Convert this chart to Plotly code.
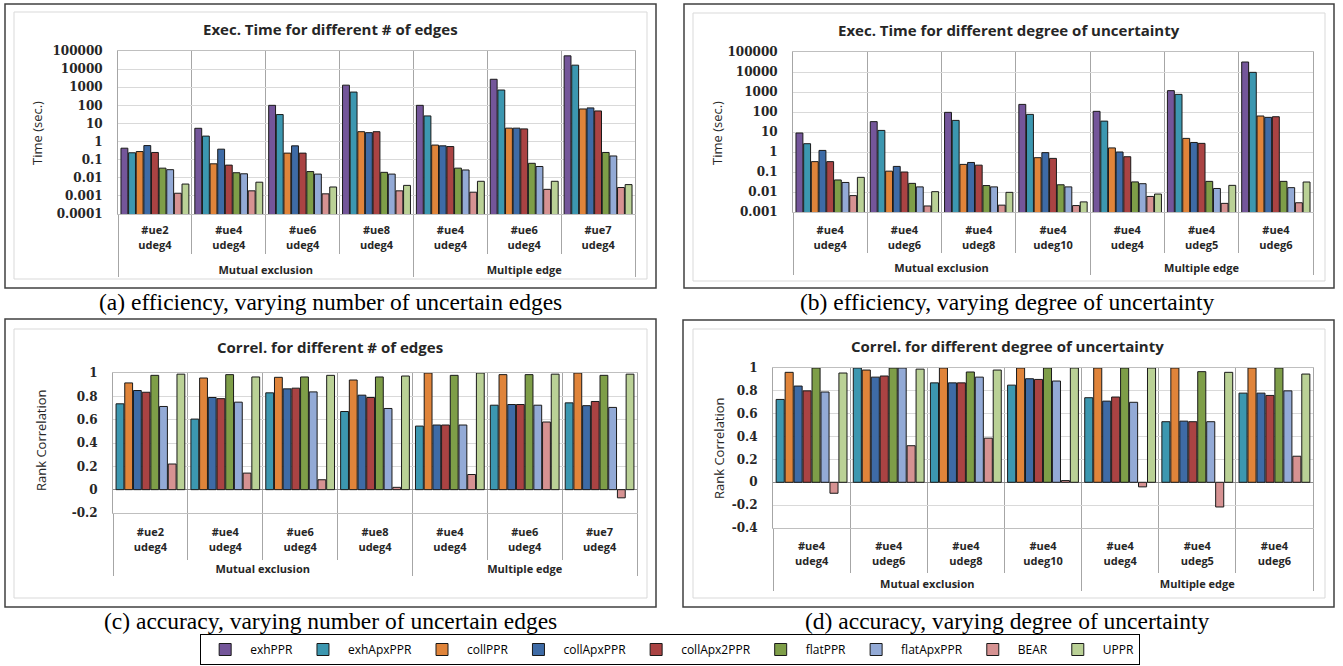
import plotly.graph_objects as go

# ---------------- data ----------------
methods = ["exhPPR", "exhApxPPR", "collPPR", "collApxPPR", "collApx2PPR",
           "flatPPR", "flatApxPPR", "BEAR", "UPPR"]
colors = ["#74569A", "#3C97B0", "#E0843A", "#3E6BA6", "#AA4343",
          "#7E9E48", "#93AAD6", "#D69292", "#BAD196"]

groups = ["Mutual exclusion"] * 4 + ["Multiple edge"] * 3
cats_edges = ["#ue2<br>udeg4", "#ue4<br>udeg4", "#ue6<br>udeg4", "#ue8<br>udeg4",
              "#ue4<br>udeg4", "#ue6<br>udeg4", "#ue7<br>udeg4"]
cats_degree = ["#ue4<br>udeg4", "#ue4<br>udeg6", "#ue4<br>udeg8", "#ue4<br>udeg10",
               "#ue4<br>udeg4", "#ue4<br>udeg5", "#ue4<br>udeg6"]

# (a) execution time, varying number of uncertain edges
a_exhPPR = [0.43, 5.4, 100, 1300, 100, 2750, 54000]
a_exhApxPPR = [0.24, 2.0, 31, 540, 26, 700, 16500]
a_collPPR = [0.28, 0.059, 0.23, 3.5, 0.64, 5.5, 63]
a_collApxPPR = [0.6, 0.38, 0.58, 3.1, 0.58, 5.5, 72]
a_collApx2PPR = [0.25, 0.05, 0.23, 3.5, 0.53, 5.0, 49]
a_flatPPR = [0.034, 0.019, 0.022, 0.02, 0.034, 0.063, 0.25]
a_flatApxPPR = [0.028, 0.0166, 0.016, 0.016, 0.027, 0.042, 0.16]
a_BEAR = [0.0014, 0.0019, 0.0013, 0.0019, 0.0016, 0.0023, 0.0029]
a_UPPR = [0.0045, 0.0057, 0.0031, 0.0038, 0.0064, 0.0064, 0.0042]

# (b) execution time, varying degree of uncertainty
b_exhPPR = [8.9, 33, 96, 240, 108, 1170, 31600]
b_exhApxPPR = [2.6, 12, 38, 76, 35, 760, 9600]
b_collPPR = [0.33, 0.11, 0.24, 0.52, 1.6, 4.8, 63]
b_collApxPPR = [1.2, 0.19, 0.3, 0.93, 1.0, 3.0, 54]
b_collApx2PPR = [0.33, 0.1, 0.22, 0.48, 0.58, 2.7, 58]
b_flatPPR = [0.04, 0.027, 0.021, 0.023, 0.032, 0.034, 0.034]
b_flatApxPPR = [0.03, 0.018, 0.018, 0.018, 0.026, 0.015, 0.0165]
b_BEAR = [0.0066, 0.002, 0.0022, 0.0021, 0.006, 0.0027, 0.0029]
b_UPPR = [0.054, 0.0104, 0.0096, 0.0032, 0.0079, 0.0215, 0.0316]

# (c) rank correlation, varying number of uncertain edges
c_exhApxPPR = [0.736, 0.605, 0.83, 0.67, 0.545, 0.724, 0.744]
c_collPPR = [0.915, 0.957, 0.963, 0.94, 1.0, 0.986, 1.0]
c_collApxPPR = [0.85, 0.79, 0.864, 0.81, 0.554, 0.73, 0.72]
c_collApx2PPR = [0.835, 0.78, 0.87, 0.79, 0.554, 0.73, 0.756]
c_flatPPR = [0.98, 0.986, 0.966, 0.966, 0.98, 0.986, 0.98]
c_flatApxPPR = [0.713, 0.75, 0.838, 0.696, 0.554, 0.724, 0.705]
c_BEAR = [0.22, 0.142, 0.085, 0.02, 0.13, 0.58, -0.07]
c_UPPR = [0.99, 0.966, 0.98, 0.974, 1.0, 0.99, 0.99]

# (d) rank correlation, varying degree of uncertainty
d_exhApxPPR = [0.725, 1.0, 0.87, 0.85, 0.74, 0.53, 0.78]
d_collPPR = [0.962, 0.982, 1.0, 1.0, 1.0, 1.0, 1.0]
d_collApxPPR = [0.842, 0.92, 0.87, 0.906, 0.71, 0.535, 0.78]
d_collApx2PPR = [0.8, 0.93, 0.87, 0.9, 0.746, 0.53, 0.76]
d_flatPPR = [1.0, 1.0, 0.965, 1.0, 1.0, 0.968, 1.0]
d_flatApxPPR = [0.79, 1.0, 0.92, 0.886, 0.7, 0.53, 0.8]
d_BEAR = [-0.096, 0.32, 0.386, 0.015, -0.04, -0.216, 0.228]
d_UPPR = [0.956, 0.99, 0.982, 1.0, 1.0, 0.962, 0.947]

time_a_ticks = [0.0001, 0.001, 0.01, 0.1, 1, 10, 100, 1000, 10000, 100000]
time_a_labels = ["0.0001", "0.001", "0.01", "0.1", "1", "10", "100", "1000", "10000", "100000"]
time_b_ticks = [0.001, 0.01, 0.1, 1, 10, 100, 1000, 10000, 100000]
time_b_labels = ["0.001", "0.01", "0.1", "1", "10", "100", "1000", "10000", "100000"]
corr_c_ticks = [-0.2, 0, 0.2, 0.4, 0.6, 0.8, 1]
corr_c_labels = ["-0.2", "0", "0.2", "0.4", "0.6", "0.8", "1"]
corr_d_ticks = [-0.4, -0.2, 0, 0.2, 0.4, 0.6, 0.8, 1]
corr_d_labels = ["-0.4", "-0.2", "0", "0.2", "0.4", "0.6", "0.8", "1"]

panel_titles = ["Exec. Time for different # of edges",
                "Exec. Time for different degree of uncertainty",
                "Correl. for different # of edges",
                "Correl. for different degree of uncertainty"]
y_titles = ["Time (sec.)", "Time (sec.)", "Rank Correlation", "Rank Correlation"]
captions = ["(a) efficiency, varying number of uncertain edges",
            "(b) efficiency, varying degree of uncertainty",
            "(c) accuracy, varying number of uncertain edges",
            "(d) accuracy, varying degree of uncertainty"]

# ---------------- figure ----------------
W, H = 1343, 666


def px(x):
    return x / W


def py(y):
    return 1 - y / H


def inner_keys(cats):
    # an invisible third line leaves room above the group row; its length
    # keeps the second group's categories distinct so their order is kept
    out = []
    for c, g in zip(cats, groups):
        pad = "\u00a0" if g == groups[0] else "\u00a0\u00a0"
        out.append(c + "<br>" + pad)
    return out


series_a = [a_exhPPR, a_exhApxPPR, a_collPPR, a_collApxPPR, a_collApx2PPR,
            a_flatPPR, a_flatApxPPR, a_BEAR, a_UPPR]
series_b = [b_exhPPR, b_exhApxPPR, b_collPPR, b_collApxPPR, b_collApx2PPR,
            b_flatPPR, b_flatApxPPR, b_BEAR, b_UPPR]
series_c = [None, c_exhApxPPR, c_collPPR, c_collApxPPR, c_collApx2PPR,
            c_flatPPR, c_flatApxPPR, c_BEAR, c_UPPR]
series_d = [None, d_exhApxPPR, d_collPPR, d_collApxPPR, d_collApx2PPR,
            d_flatPPR, d_flatApxPPR, d_BEAR, d_UPPR]

fig = go.Figure()
panels = [(series_a, cats_edges, "x", "y"),
          (series_b, cats_degree, "x2", "y2"),
          (series_c, cats_edges, "x3", "y3"),
          (series_d, cats_degree, "x4", "y4")]
for p, (series, cats, xa, ya) in enumerate(panels):
    keys = inner_keys(cats)
    for m, (name, col, vals) in enumerate(zip(methods, colors, series)):
        if vals is None:
            continue
        fig.add_trace(go.Bar(
            x=[groups, keys], y=vals, name=name, legendgroup=name,
            showlegend=(p == 0), xaxis=xa, yaxis=ya,
            marker=dict(color=col, line=dict(color="#1a1a1a", width=1)),
        ))

sans = "Open Sans"
serif_ticks = dict(family="DejaVu Serif, serif", size=12, color="#262626", weight="bold")
cat_font = dict(family=sans, size=11, color="#262626", weight="bold")

# plot-area pixel boxes: (left, right, top, bottom)
boxes = [(118, 635, 51, 214), (793, 1313, 52, 212), (113, 637, 373, 513), (773, 1313, 368, 528)]
label_standoff = [6, 8, 9, 8]
boundary_len = [39, 40, 46, 44]

layout = dict(
    width=W, height=H, margin=dict(l=0, r=0, t=0, b=0, autoexpand=False),
    paper_bgcolor="white", plot_bgcolor="white",
    barmode="group", bargap=0.07, bargroupgap=0.1,
    showlegend=True,
    legend=dict(orientation="h", x=0.499, xanchor="center", y=py(665), yanchor="bottom",
                bordercolor="#000000", borderwidth=1, bgcolor="white",
                font=dict(family=sans, size=12, color="#000000"),
                itemwidth=40, tracegroupgap=0),
)

ycfg = [
    dict(type="log", range=[-4, 5], tickvals=time_a_ticks, ticktext=time_a_labels),
    dict(type="log", range=[-3, 5], tickvals=time_b_ticks, ticktext=time_b_labels),
    dict(range=[-0.2, 1], tickvals=corr_c_ticks, ticktext=corr_c_labels,
         zeroline=True, zerolinecolor="#8c8c8c", zerolinewidth=1),
    dict(range=[-0.4, 1], tickvals=corr_d_ticks, ticktext=corr_d_labels,
         zeroline=True, zerolinecolor="#8c8c8c", zerolinewidth=1),
]
for i, (l, r, t, b) in enumerate(boxes):
    sfx = "" if i == 0 else str(i + 1)
    layout["xaxis" + sfx] = dict(
        type="multicategory", domain=[px(l), px(r)], anchor="y" + sfx,
        tickson="boundaries", ticks="outside", ticklen=boundary_len[i], tickcolor="#a6a6a6",
        ticklabelstandoff=label_standoff[i],
        showgrid=True, gridcolor="#a6a6a6", gridwidth=1,
        showdividers=True, dividercolor="#a6a6a6", dividerwidth=1,
        showline=True, linecolor="#bfbfbf", linewidth=1, mirror=True,
        tickfont=cat_font, fixedrange=True,
    )
    yd = dict(domain=[py(b), py(t)], anchor="x" + sfx,
              showgrid=True, gridcolor="#d9d9d9", gridwidth=1,
              showline=True, linecolor="#a6a6a6", mirror=True,
              ticks="", ticklabelstandoff=12, tickfont=serif_ticks, fixedrange=True)
    yd.update(ycfg[i])
    layout["yaxis" + sfx] = yd

fig.update_layout(**layout)

# panel frames
outer = [(5, 656, 4, 288), (684, 1334, 4, 288), (5, 656, 319, 607), (683, 1334, 320, 607)]
inner = [(14, 647, 12, 279), (693, 1325, 13, 281), (14, 647, 329, 598), (693, 1325, 329, 598)]
for (l, r, t, b) in inner:
    fig.add_shape(type="rect", xref="paper", yref="paper", x0=px(l), x1=px(r), y0=py(b), y1=py(t),
                  line=dict(color="#d9d9d9", width=1), layer="below")
for (l, r, t, b) in outer:
    fig.add_shape(type="rect", xref="paper", yref="paper", x0=px(l), x1=px(r), y0=py(b), y1=py(t),
                  line=dict(color="#404040", width=1.5))

title_pos = [(330, 29), (1009, 30), (330, 347), (1008, 346)]
for txt, (x, y) in zip(panel_titles, title_pos):
    fig.add_annotation(text=txt, x=px(x), y=py(y), xref="paper", yref="paper", showarrow=False,
                       xanchor="center", yanchor="middle",
                       font=dict(family=sans, size=15, color="#262626", weight="bold"))

ytitle_pos = [(37, 133), (717, 133), (41, 440), (719, 448)]
for txt, (x, y) in zip(y_titles, ytitle_pos):
    fig.add_annotation(text=txt, x=px(x), y=py(y), xref="paper", yref="paper", showarrow=False,
                       textangle=-90, xanchor="center", yanchor="middle",
                       font=dict(family=sans, size=13, color="#262626"))

cap_pos = [(330, 302), (1008, 302), (330, 621), (1008, 621)]
for txt, (x, y) in zip(captions, cap_pos):
    fig.add_annotation(text=txt, x=px(x), y=py(y), xref="paper", yref="paper", showarrow=False,
                       xanchor="center", yanchor="middle",
                       font=dict(family="Liberation Serif", size=23.5, color="#000000"))

fig.write_html("out.html", config={"displayModeBar": False},
               post_script="document.body.style.margin='0';")
